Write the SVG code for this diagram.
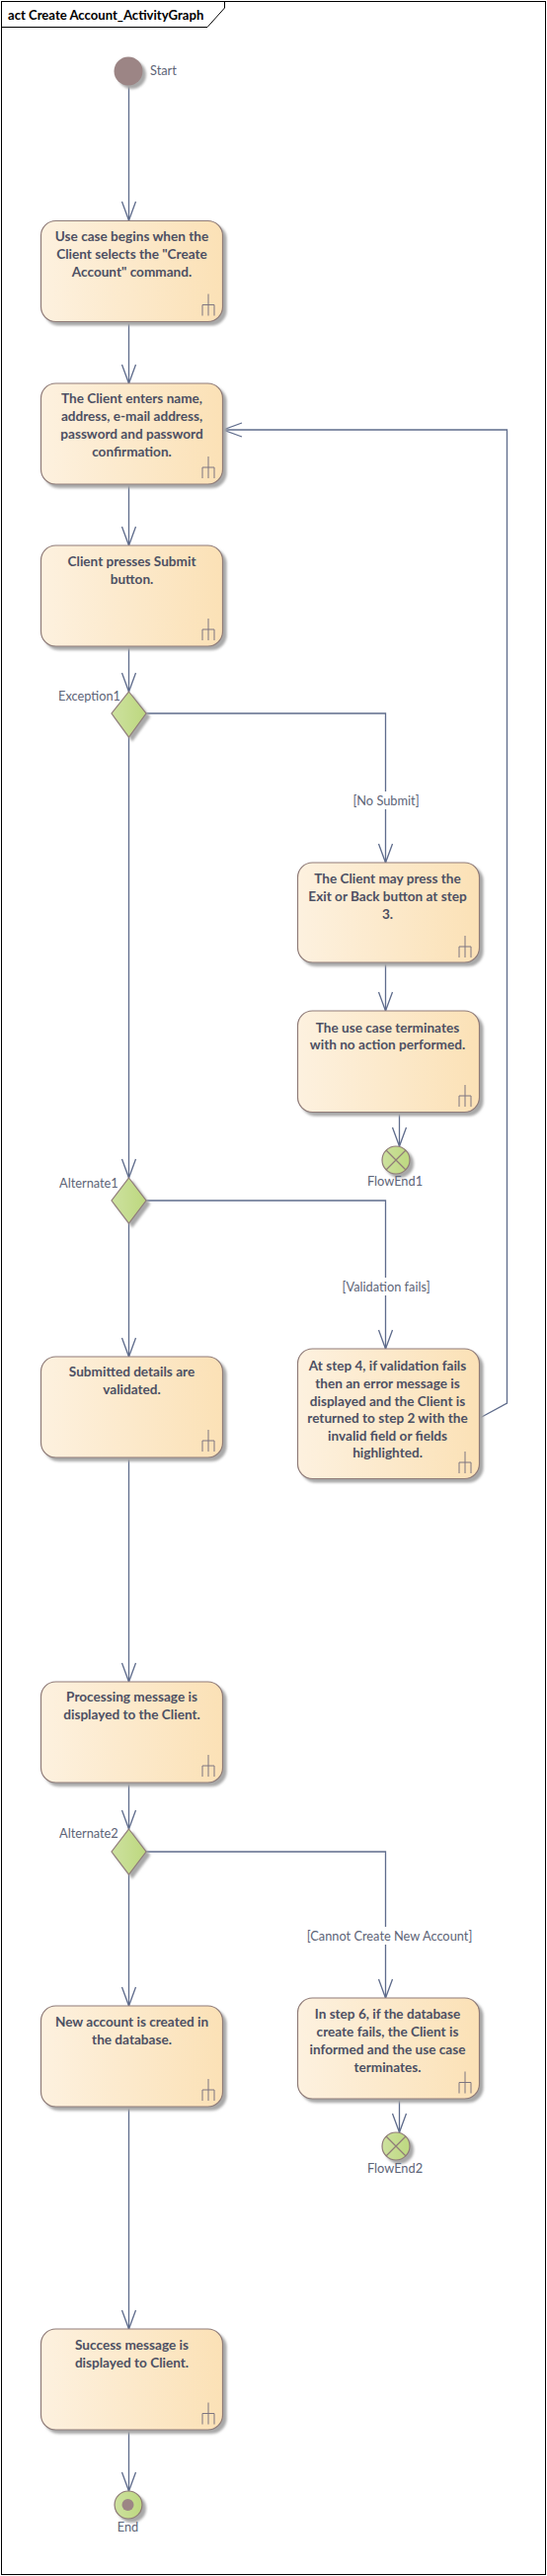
<svg xmlns="http://www.w3.org/2000/svg" width="554" height="2607" viewBox="0 0 554 2607">
<style>
text{font-family:Lato,"Liberation Sans",sans-serif;fill:#4d5063}
.n{font-size:13.6px;font-weight:700;text-anchor:middle}
.l{font-size:12.8px;fill:#5d6477}
.m{text-anchor:middle}
.box{fill:url(#a);stroke:#8f7b78;stroke-width:1.2}
.ic{fill:none;stroke:#7d7580;stroke-width:1}
.c{fill:none;stroke:#5f6c8c;stroke-width:1.3}
.lb{fill:#fff;stroke:none}
.d{fill:url(#g);stroke:#8f7b78;stroke-width:1.2}
.x{fill:none;stroke:#8f7b78;stroke-width:1.2}
</style>
<defs>
<linearGradient id="a"><stop offset="0" stop-color="#fdf1df"/><stop offset="1" stop-color="#fbe1b6"/></linearGradient>
<linearGradient id="g"><stop offset="0" stop-color="#cde19f"/><stop offset="1" stop-color="#bdd87f"/></linearGradient>
<filter id="s" x="-20%" y="-20%" width="140%" height="140%"><feDropShadow dx="3.5" dy="3.5" stdDeviation="1" flood-color="#a8a8a8"/></filter>
<marker id="ar" markerUnits="userSpaceOnUse" markerWidth="24" markerHeight="20" refX="20" refY="8" orient="auto" overflow="visible"><path d="M1 1L20 8L1 15" fill="none" stroke="#5f6c8c" stroke-width="1.3"/></marker>
<g id="fork"><path class="ic" d="M0 -22V0M-6 -11H6M-6 0V-11M6 0V-11"/></g>
</defs>
<rect width="554" height="2607" fill="#fff"/>
<g id="frame">
<rect x="1.5" y="1.5" width="551" height="2604" fill="none" stroke="#000" stroke-width="1"/>
<path d="M1.5 27.5H210L227.5 8V1.5" fill="none" stroke="#000" stroke-width="1"/>
<text x="8" y="20" style="font-size:13.1px;font-weight:700;fill:#000">act Create Account_ActivityGraph</text>
</g>
<g id="connectors">
<path class="c" marker-end="url(#ar)" d="M130.5 86V223"/>
<path class="c" marker-end="url(#ar)" d="M130.5 325V388"/>
<path class="c" marker-end="url(#ar)" d="M130.5 489V552"/>
<path class="c" marker-end="url(#ar)" d="M130.5 654V700"/>
<path class="c" marker-end="url(#ar)" d="M130.5 746V1192"/>
<path class="c" marker-end="url(#ar)" d="M148 722H390.5V873"/>
<path class="c" marker-end="url(#ar)" d="M390.5 974V1023"/>
<path class="c" marker-end="url(#ar)" d="M404.5 1126V1160"/>
<path class="c" marker-end="url(#ar)" d="M148 1215H390.5V1365"/>
<path class="c" marker-end="url(#ar)" d="M486 1435L513.5 1420V435H226"/>
<path class="c" marker-end="url(#ar)" d="M130.5 1238V1373"/>
<path class="c" marker-end="url(#ar)" d="M130.5 1475V1702"/>
<path class="c" marker-end="url(#ar)" d="M130.5 1804V1851"/>
<path class="c" marker-end="url(#ar)" d="M130.5 1897V2030"/>
<path class="c" marker-end="url(#ar)" d="M148 1874H390.5V2022"/>
<path class="c" marker-end="url(#ar)" d="M404.5 2124V2158"/>
<path class="c" marker-end="url(#ar)" d="M130.5 2132V2357"/>
<path class="c" marker-end="url(#ar)" d="M130.5 2459V2521"/>
<rect class="lb" x="355" y="801" width="72" height="18"/>
<text class="l m" x="391" y="815">[No Submit]</text>
<rect class="lb" x="346" y="1293" width="90" height="18"/>
<text class="l m" x="391" y="1307">[Validation fails]</text>
<rect class="lb" x="311" y="1950" width="168" height="18"/>
<text class="l m" x="394.5" y="1964">[Cannot Create New Account]</text>
</g>
<g id="start"><circle cx="130" cy="72" r="14.5" fill="#9c8585" filter="url(#s)"/><text class="l" x="152" y="76">Start</text></g>
<g id="n1"><rect class="box" filter="url(#s)" x="41.5" y="223.5" width="184" height="102" rx="15"/><text class="n" x="133.5" y="244">Use case begins when the</text><text class="n" x="133.5" y="262">Client selects the "Create</text><text class="n" x="133.5" y="280">Account" command.</text><use href="#fork" x="211" y="319.5"/></g>
<g id="n2"><rect class="box" filter="url(#s)" x="41.5" y="388" width="184" height="102" rx="15"/><text class="n" x="133.5" y="408">The Client enters name,</text><text class="n" x="133.5" y="426">address, e-mail address,</text><text class="n" x="133.5" y="444">password and password</text><text class="n" x="133.5" y="462">confirmation.</text><use href="#fork" x="211" y="484"/></g>
<g id="n3"><rect class="box" filter="url(#s)" x="41.5" y="552" width="184" height="102" rx="15"/><text class="n" x="133.5" y="573">Client presses Submit</text><text class="n" x="133.5" y="591">button.</text><use href="#fork" x="211" y="648"/></g>
<g id="exception1"><path class="d" filter="url(#s)" d="M130.5 700L148 722L130.5 746L113 722Z"/><text class="l" x="59" y="709">Exception1</text></g>
<g id="n4"><rect class="box" filter="url(#s)" x="301.5" y="873" width="184" height="101" rx="15"/><text class="n" x="392.5" y="894">The Client may press the</text><text class="n" x="392.5" y="912">Exit or Back button at step</text><text class="n" x="392.5" y="930">3.</text><use href="#fork" x="471" y="969"/></g>
<g id="n5"><rect class="box" filter="url(#s)" x="301.5" y="1023" width="184" height="102.500" rx="15"/><text class="n" x="392.5" y="1045">The use case terminates</text><text class="n" x="392.5" y="1062">with no action performed.</text><use href="#fork" x="471" y="1120"/></g>
<g id="flowend1"><circle class="d" filter="url(#s)" cx="401" cy="1174" r="14"/><path class="x" d="M391 1164L411 1184M411 1164L391 1184"/><text class="l m" x="400" y="1200">FlowEnd1</text></g>
<g id="alternate1"><path class="d" filter="url(#s)" d="M130.500 1192L148 1215L130.500 1238L113 1215Z"/><text class="l" x="60" y="1202">Alternate1</text></g>
<g id="n6"><rect class="box" filter="url(#s)" x="41.5" y="1373" width="184" height="102" rx="15"/><text class="n" x="133.5" y="1393">Submitted details are</text><text class="n" x="133.5" y="1411">validated.</text><use href="#fork" x="211" y="1469"/></g>
<g id="n7"><rect class="box" filter="url(#s)" x="301.5" y="1365" width="184" height="131.500" rx="15"/><text class="n" x="392.5" y="1387">At step 4, if validation fails</text><text class="n" x="392.5" y="1405">then an error message is</text><text class="n" x="392.5" y="1423">displayed and the Client is</text><text class="n" x="392.5" y="1440">returned to step 2 with the</text><text class="n" x="392.5" y="1458">invalid field or fields</text><text class="n" x="392.5" y="1475">highlighted.</text><use href="#fork" x="471" y="1491"/></g>
<g id="n8"><rect class="box" filter="url(#s)" x="41.5" y="1702" width="184" height="102" rx="15"/><text class="n" x="133.5" y="1722">Processing message is</text><text class="n" x="133.5" y="1740">displayed to the Client.</text><use href="#fork" x="211" y="1798"/></g>
<g id="alternate2"><path class="d" filter="url(#s)" d="M130.5 1851L148 1874L130.5 1897L113 1874Z"/><text class="l" x="60" y="1860">Alternate2</text></g>
<g id="n9"><rect class="box" filter="url(#s)" x="41.5" y="2030" width="184" height="102" rx="15"/><text class="n" x="133.5" y="2051">New account is created in</text><text class="n" x="133.5" y="2069">the database.</text><use href="#fork" x="211" y="2126"/></g>
<g id="n10"><rect class="box" filter="url(#s)" x="301.5" y="2022" width="184" height="102" rx="15"/><text class="n" x="392.5" y="2043">In step 6, if the database</text><text class="n" x="392.5" y="2061">create fails, the Client is</text><text class="n" x="392.5" y="2079">informed and the use case</text><text class="n" x="392.5" y="2097">terminates.</text><use href="#fork" x="471" y="2118.500"/></g>
<g id="flowend2"><circle class="d" filter="url(#s)" cx="401" cy="2172" r="14"/><path class="x" d="M391 2162L411 2182M411 2162L391 2182"/><text class="l m" x="400" y="2199">FlowEnd2</text></g>
<g id="n11"><rect class="box" filter="url(#s)" x="41.5" y="2357" width="184" height="102" rx="15"/><text class="n" x="133.5" y="2378">Success message is</text><text class="n" x="133.5" y="2396">displayed to Client.</text><use href="#fork" x="211" y="2453.500"/></g>
<g id="end"><circle class="d" filter="url(#s)" cx="130" cy="2535" r="14"/><circle cx="129.500" cy="2535" r="6" fill="#9c8585"/><text class="l m" x="129.500" y="2562">End</text></g>
</svg>
